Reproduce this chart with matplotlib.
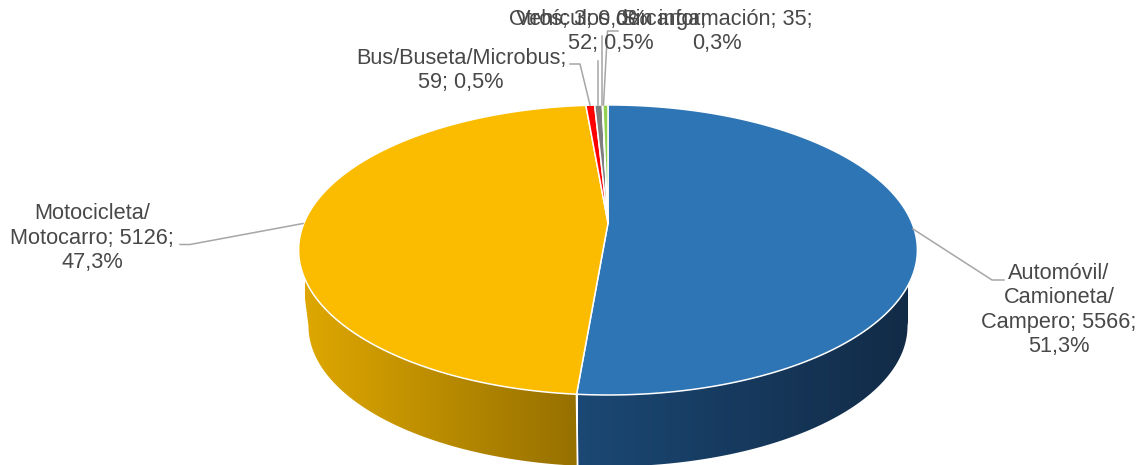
import numpy as np
import matplotlib
matplotlib.use("Agg")
import matplotlib.pyplot as plt
from matplotlib.patches import Polygon

values = [5566, 5126, 59, 52, 3, 35]
label_texts = ["Automóvil/\nCamioneta/\nCampero; 5566;\n51,3%",
               "Motocicleta/\nMotocarro; 5126;\n47,3%",
               "Bus/Buseta/Microbus;\n59; 0,5%",
               "Vehículos de carga;\n52; 0,5%",
               "Otros; 3; 0,0%",
               "Sin información; 35;\n0,3%"]
colors = ["#2E75B6", "#FBBC00", "#FF0000", "#7F7F7F", "#A5A5A5", "#92D050"]

W, H = 1140, 465
fig = plt.figure(figsize=(W / 100, H / 100), dpi=100)
ax = fig.add_axes([0, 0, 1, 1])
ax.set_xlim(0, W)
ax.set_ylim(H, 0)
ax.axis("off")

CX, APEX_Y, K = 608.0, 223.0, 0.186
A, B = 304.0, 140.0
BOT_S, BOT_APEX_Y = 0.968, 300.0


def project(theta, scale=1.0, apex=APEX_Y):
    u, v = np.sin(theta), np.cos(theta)
    w = 1 + K * v
    return CX + scale * A * u / w, apex - scale * B * v / w


fr = np.array(values, float) / sum(values)
edges = np.concatenate([[0], np.cumsum(fr)]) * 2 * np.pi

# side wall: (top start, bottom start) angles and horizontal gradient per slice
wall_specs = [
    (np.radians(107.7), np.radians(100.7), edges[1], edges[1], 578, 908, "#1B4874", "#122B47"),
    (edges[1], edges[1], np.radians(252.3), np.radians(259.3), 305, 577, "#DEA700", "#967000"),
]
for t0, b0, t1, b1, xa, xb, ca, cb in wall_specs:
    tx, ty = project(np.linspace(t0, t1, 200))
    bx, by = project(np.linspace(b1, b0, 200), BOT_S, BOT_APEX_Y)
    poly = Polygon(np.column_stack([np.r_[tx, bx], np.r_[ty, by]]), closed=True,
                   facecolor="none", edgecolor="none", transform=ax.transData)
    ax.add_patch(poly)
    a = np.array(matplotlib.colors.to_rgb(ca))
    b = np.array(matplotlib.colors.to_rgb(cb))
    grad = np.linspace(0, 1, 256)[None, :, None] * (b - a)[None, None, :] + a[None, None, :]
    im = ax.imshow(grad, extent=(xa, xb, 480, 240), aspect="auto", zorder=1, interpolation="bilinear")
    im.set_clip_path(poly)
ax.set_xlim(0, W)
ax.set_ylim(H, 0)

# seam between the two visible wall segments
xs0, ys0 = project(edges[1])
xs1, ys1 = project(edges[1], BOT_S, BOT_APEX_Y)
ax.plot([xs0, xs1], [ys0, ys1], color="white", lw=1.3, zorder=2, solid_capstyle="butt")

# top face
for i, c in enumerate(colors):
    th = np.linspace(edges[i], edges[i + 1], max(3, int(fr[i] * 720)))
    x, y = project(th)
    pts = np.column_stack([np.r_[CX, x], np.r_[APEX_Y, y]])
    ax.add_patch(Polygon(pts, closed=True, facecolor=c, edgecolor="white", lw=1.1,
                         joinstyle="round", zorder=3))

# leader lines
leaders = [
    [(913, 229), (992, 280), (1004, 280)],
    [(303, 223.5), (190, 244.5), (180, 244.5)],
    [(590, 105), (580, 64), (570, 64)],
    [(598, 105), (598, 61)],
    [(601.7, 105), (601.7, 36)],
    [(603.5, 105), (607.5, 31), (618, 31)],
]
for pts in leaders:
    p = np.array(pts)
    ax.plot(p[:, 0], p[:, 1], color="#A6A6A6", lw=1.1, zorder=4)

# labels
label_pos = [(1059, 310), (92, 238), (461, 70.5), (611, 31.5), (578, 20), (717, 31.5)]
for (x, y), s in zip(label_pos, label_texts):
    ax.text(x, y, s, ha="center", va="center", ma="center", family="Liberation Sans",
            fontsize=15.7, color="#484848", linespacing=1.2, zorder=5)

fig.savefig("out.png", dpi=100)
